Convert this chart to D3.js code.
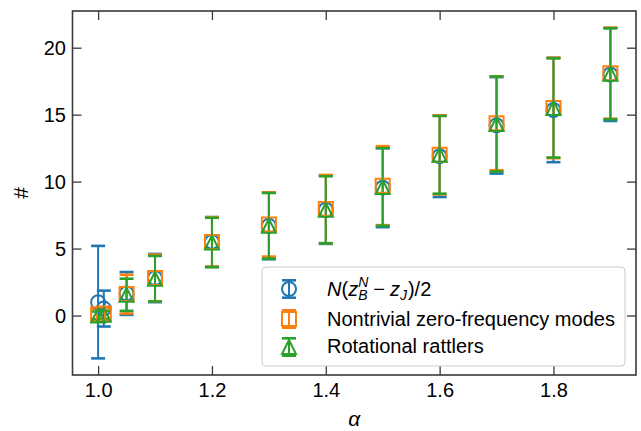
<!DOCTYPE html>
<html>
<head>
<meta charset="utf-8">
<script src="https://cdn.jsdelivr.net/npm/d3@7"></script>
<style>
  html, body { margin: 0; padding: 0; background: #fff; }
  svg { display: block; }
  text { font-family: "Liberation Sans", Arial, sans-serif; }
</style>
</head>
<body>
<svg id="chart" width="641" height="431"></svg>
<script>
// ---- data ----
const alpha = [1.0, 1.01, 1.05, 1.1, 1.2, 1.3, 1.4, 1.5, 1.6, 1.7, 1.8, 1.9];

const zValue   = [1.0, 0.52, 1.65, 2.8, 5.5, 6.7, 7.9, 9.55, 11.9, 14.2, 15.35, 18.0];
const zErr     = [4.2, 1.34, 1.6, 1.8, 1.85, 2.5, 2.55, 2.95, 3.05, 3.6, 3.9, 3.47];

const modeValue = [0.1, 0.15, 1.6, 2.8, 5.5, 6.8, 7.95, 9.7, 12.0, 14.35, 15.5, 18.1];
const modeErr   = [0.4, 0.4, 1.45, 1.75, 1.85, 2.4, 2.55, 2.95, 2.95, 3.5, 3.75, 3.4];

const rattValue = [0.0, 0.05, 1.55, 2.75, 5.45, 6.7, 7.9, 9.6, 12.0, 14.3, 15.5, 18.05];
const rattErr   = [0.3, 0.3, 1.2, 1.7, 1.85, 2.45, 2.5, 2.9, 2.9, 3.55, 3.7, 3.4];

const xTicks = [1.0, 1.2, 1.4, 1.6, 1.8];
const xTickLabels = ["1.0", "1.2", "1.4", "1.6", "1.8"];
const yTicks = [0, 5, 10, 15, 20];
const yTickLabels = ["0", "5", "10", "15", "20"];
const xDomain = [0.955, 1.945];
const yDomain = [-4.44, 22.74];

const seriesNames = ["z", "modes", "rattlers"];
const seriesColors = ["#1f77b4", "#ff7f0e", "#2ca02c"];
const seriesMarkers = ["circle", "square", "triangle"];
const legendLabels = ["N(z_B^N − z_J)/2", "Nontrivial zero-frequency modes", "Rotational rattlers"];

// ---- layout ----
const L = 72.5, R = 636, T = 11, B = 375;
const svg = d3.select("#chart");
svg.append("rect").attr("width", 641).attr("height", 431).attr("fill", "#fff");

const x = d3.scaleLinear().domain(xDomain).range([L, R]);
const y = d3.scaleLinear().domain(yDomain).range([B, T]);

const series = [
  {values: zValue, errs: zErr},
  {values: modeValue, errs: modeErr},
  {values: rattValue, errs: rattErr}
].map((s, i) => ({
  name: seriesNames[i], color: seriesColors[i], marker: seriesMarkers[i],
  pts: alpha.map((a, j) => ({a, v: s.values[j], e: s.errs[j]}))
}));

const MS = 14;       // marker size px
const CAP = 7;       // half cap width
const EW = 2;        // errorbar line width

function markerPath(type, s) {
  const h = s / 2;
  if (type === "circle") {
    return `M${h},0 A${h},${h} 0 1,1 ${-h},0 A${h},${h} 0 1,1 ${h},0 Z`;
  } else if (type === "square") {
    return `M${-h},${-h} L${h},${-h} L${h},${h} L${-h},${h} Z`;
  } else {
    return `M0,${-h} L${-h},${h} L${h},${h} Z`;
  }
}

const plot = svg.append("g");

// error bars (all series first, like matplotlib zorder 2)
series.forEach(s => {
  const g = plot.append("g");
  g.selectAll("line.bar").data(s.pts).join("line")
    .attr("x1", d => x(d.a)).attr("x2", d => x(d.a))
    .attr("y1", d => y(d.v - d.e)).attr("y2", d => y(d.v + d.e))
    .attr("stroke", s.color).attr("stroke-width", EW);
  ["lo", "hi"].forEach(k => {
    g.selectAll("line.cap" + k).data(s.pts).join("line")
      .attr("x1", d => x(d.a) - CAP).attr("x2", d => x(d.a) + CAP)
      .attr("y1", d => y(k === "lo" ? d.v - d.e : d.v + d.e))
      .attr("y2", d => y(k === "lo" ? d.v - d.e : d.v + d.e))
      .attr("stroke", s.color).attr("stroke-width", 2.6);
  });
});
// markers on top
series.forEach(s => {
  plot.append("g").selectAll("path").data(s.pts).join("path")
    .attr("transform", d => `translate(${x(d.a)},${y(d.v)})`)
    .attr("d", markerPath(s.marker, MS))
    .attr("fill", "none").attr("stroke", s.color).attr("stroke-width", 2);
});

// ---- axes ----
const TICK = 9;
const axisColor = "#3a3a3a";
function styleAxis(g) {
  g.select(".domain").remove();
  g.selectAll(".tick line").attr("stroke", axisColor).attr("stroke-width", 1.3);
}
const xb = svg.append("g").attr("transform", `translate(0,${B})`)
  .call(d3.axisBottom(x).tickValues(xTicks).tickFormat((d, i) => xTickLabels[i]).tickSize(-TICK));
styleAxis(xb);
xb.selectAll(".tick text").attr("y", 22).attr("dy", 0).attr("fill", "#000")
  .style("font-size", "20px");

const xt = svg.append("g").attr("transform", `translate(0,${T})`)
  .call(d3.axisTop(x).tickValues(xTicks).tickFormat("").tickSize(-TICK));
styleAxis(xt);

const yl = svg.append("g").attr("transform", `translate(${L},0)`)
  .call(d3.axisLeft(y).tickValues(yTicks).tickFormat((d, i) => yTickLabels[i]).tickSize(-TICK));
styleAxis(yl);
yl.selectAll(".tick text").attr("x", -6.5).attr("dy", "0.36em").attr("fill", "#000")
  .style("font-size", "20px");

const yr = svg.append("g").attr("transform", `translate(${R},0)`)
  .call(d3.axisRight(y).tickValues(yTicks).tickFormat("").tickSize(-TICK));
styleAxis(yr);

// frame
svg.append("rect").attr("x", L).attr("y", T).attr("width", R - L).attr("height", B - T)
  .attr("fill", "none").attr("stroke", axisColor).attr("stroke-width", 1.6);

// axis labels
svg.append("text").attr("x", (L + R) / 2).attr("y", 426).attr("text-anchor", "middle")
  .style("font-size", "21px").style("font-style", "italic").text("α");
svg.append("text").attr("transform", `translate(28,193) rotate(-90)`)
  .attr("text-anchor", "middle").style("font-size", "21px").text("#");

// ---- legend ----
const lg = svg.append("g");
const LX = 262, LY = 267, LW = 363, LH = 99;
lg.append("rect").attr("x", LX).attr("y", LY).attr("width", LW).attr("height", LH)
  .attr("rx", 4).attr("fill", "#fff").attr("fill-opacity", 0.8)
  .attr("stroke", "#cccccc").attr("stroke-width", 1);

const rowY = [289, 319, 347];
const handleX = 289;
const textX = 327;
series.forEach((s, i) => {
  const cy = rowY[i];
  const g = lg.append("g");
  g.append("line").attr("x1", handleX).attr("x2", handleX).attr("y1", cy - 8.7).attr("y2", cy + 8.7)
    .attr("stroke", s.color).attr("stroke-width", EW);
  [-8.7, 8.7].forEach(o => g.append("line").attr("x1", handleX - CAP).attr("x2", handleX + CAP)
    .attr("y1", cy + o).attr("y2", cy + o).attr("stroke", s.color).attr("stroke-width", 2.6));
  g.append("path").attr("transform", `translate(${handleX},${cy})`)
    .attr("d", markerPath(s.marker, MS)).attr("fill", "none")
    .attr("stroke", s.color).attr("stroke-width", 2);
});

// label 1: math text N(z_B^N − z_J)/2 as one text element with tspans
(function () {
  const base = 296;
  const fs = 20, sfs = 14;
  function measure(str, size, it) {
    const t = svg.append("text").style("font-size", size + "px")
      .style("font-style", it ? "italic" : "normal").text(str);
    const w = t.node().getComputedTextLength();
    t.remove();
    return w;
  }
  const wSupN = measure("N", sfs, true);
  const wSubB = measure("B", sfs, true);
  const t = lg.append("text").attr("x", textX).attr("y", base).style("font-size", fs + "px");
  t.append("tspan").style("font-style", "italic").text("N");
  t.append("tspan").text("(");
  t.append("tspan").style("font-style", "italic").text("z");
  t.append("tspan").attr("dy", -9).style("font-size", sfs + "px").style("font-style", "italic").text("N");
  t.append("tspan").attr("dx", -wSupN).attr("dy", 13).style("font-size", sfs + "px")
    .style("font-style", "italic").text("B");
  const extra = Math.max(wSupN, wSubB) - wSubB + 5;
  t.append("tspan").attr("dx", extra).attr("dy", -4).text("−");
  t.append("tspan").attr("dx", 5).style("font-style", "italic").text("z");
  t.append("tspan").attr("dy", 4).style("font-size", sfs + "px").style("font-style", "italic").text("J");
  t.append("tspan").attr("dx", 1).attr("dy", -4).text(")/2");
})();
lg.append("text").attr("x", textX).attr("y", 325.7).style("font-size", "20px").text(legendLabels[1]);
lg.append("text").attr("x", textX).attr("y", 352.7).style("font-size", "20px").text(legendLabels[2]);
</script>
</body>
</html>
